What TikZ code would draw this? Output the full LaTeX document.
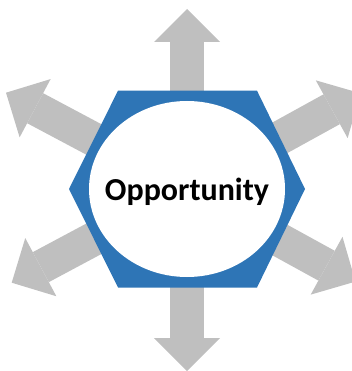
\documentclass[tikz,border=0pt]{standalone}
\usepackage{fontspec}
\setmainfont{Carlito}
\usepackage{tikz}
\usetikzlibrary{arrows.meta}

\definecolor{hexblue}{RGB}{46,117,182}
\definecolor{spokegray}{RGB}{191,191,191}

\begin{document}
\begin{tikzpicture}[x=1pt,y=-1pt,
                    spoke/.style={spokegray,line width=34pt,
                      -{Triangle[width=66pt,length=33pt,line width=0pt]}},
                    label/.style={inner sep=0pt,text depth=0pt,
                      font=\bfseries\fontsize{32}{38}\selectfont}]
    \clip (0,0) rectangle (352,371);
    \coordinate (c) at (187,189);

    % arrow tips
    \coordinate (up) at (187,9);
    \coordinate (down) at (187,371);
    \coordinate (upleft) at (6,92.7);
    \coordinate (upright) at (360.6,93.3);
    \coordinate (downleft) at (11.7,282.7);
    \coordinate (downright) at (355.5,281.6);

    \foreach \tip in {up,down,upleft,upright,downleft,downright}
        \draw[spoke] (c) -- (\tip);

    \fill[hexblue] (118,90.7) -- (257,90.7) -- (305,189) -- (257,287.5)
                   -- (118,287.5) -- (69,189) -- cycle;
    \fill[white] (c) ellipse [x radius=98, y radius=88];
    \node[label] (opp) at (c) {Opportunity};
\end{tikzpicture}
\end{document}
